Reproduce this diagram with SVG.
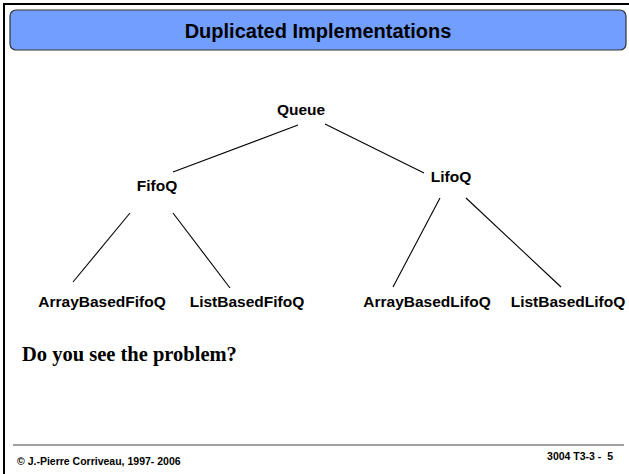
<svg xmlns="http://www.w3.org/2000/svg" width="629" height="474" viewBox="0 0 629 474">
<style>
.node{font-family:"Liberation Sans",Arial,sans-serif;font-weight:bold;font-size:15.5px;fill:#000;text-anchor:middle}
.edge{stroke:#000;stroke-width:1.1;fill:none}
.foot{font-family:"Liberation Sans",Arial,sans-serif;font-weight:bold;font-size:10.5px;fill:#000;white-space:pre}
</style>
<rect x="0" y="0" width="629" height="474" fill="#fff"/>
<path d="M4 474 V4 H629" fill="none" stroke="#000" stroke-width="2"/>
<g id="title">
<rect x="10" y="10" width="616" height="40" rx="6" ry="6" fill="#729fff" stroke="#333" stroke-width="1.2"/>
<text x="318" y="38" style="font-family:'Liberation Sans',Arial,sans-serif;font-weight:bold;font-size:20px;text-anchor:middle">Duplicated Implementations</text>
</g>
<g id="connectors">
<line class="edge" x1="298" y1="125" x2="173" y2="172"/>
<line class="edge" x1="325" y1="124" x2="424" y2="173"/>
<line class="edge" x1="130" y1="213" x2="73" y2="282"/>
<line class="edge" x1="173" y1="213" x2="230" y2="288"/>
<line class="edge" x1="440" y1="198" x2="393" y2="287"/>
<line class="edge" x1="466" y1="198" x2="561" y2="287"/>
</g>
<g id="queue"><text class="node" x="301" y="115">Queue</text></g>
<g id="fifoq"><text class="node" x="157" y="191">FifoQ</text></g>
<g id="lifoq"><text class="node" x="451" y="182">LifoQ</text></g>
<g id="arraybasedfifoq"><text class="node" x="102" y="307">ArrayBasedFifoQ</text></g>
<g id="listbasedfifoq"><text class="node" x="247" y="307">ListBasedFifoQ</text></g>
<g id="arraybasedlifoq"><text class="node" x="427" y="307">ArrayBasedLifoQ</text></g>
<g id="listbasedlifoq"><text class="node" x="568" y="307">ListBasedLifoQ</text></g>
<text x="22" y="361" style="font-family:'Liberation Serif','Times New Roman',serif;font-weight:bold;font-size:20.5px">Do you see the problem?</text>
<line x1="13" y1="445" x2="624" y2="445" stroke="#808080" stroke-width="1.5"/>
<text class="foot" x="17" y="465">© J.-Pierre Corriveau, 1997- 2006</text>
<text class="foot" x="613" y="460" text-anchor="end">3004 T3-3 -  5</text>
</svg>
